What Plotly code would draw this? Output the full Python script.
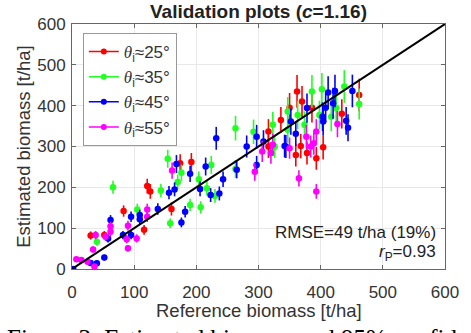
import plotly.graph_objects as go

# ---- data (t/ha) ----
red_x = [30, 52, 83, 116, 121, 126, 160, 174, 192, 316, 336, 316, 360, 368, 378, 393, 404, 362, 370, 386, 434, 462, 350]
red_y = [82, 83, 142, 96, 203, 190, 147, 259, 262, 337, 365, 300, 279, 301, 284, 271, 298, 435, 410, 395, 380, 426, 395]
red_e = [10, 10, 14, 12, 18, 18, 16, 22, 22, 30, 32, 28, 28, 30, 28, 28, 30, 40, 38, 36, 36, 40, 36]

green_x = [40, 66, 105, 143, 154, 158, 170, 176, 190, 204, 207, 217, 224, 230, 263, 263, 292, 323, 326, 347, 347, 363, 374, 386, 398, 402, 417, 425, 438, 462]
green_y = [67, 200, 146, 192, 270, 112, 213, 236, 157, 220, 151, 198, 255, 179, 345, 245, 336, 353, 300, 386, 341, 377, 353, 435, 377, 440, 373, 394, 447, 404]
green_e = [10, 16, 14, 17, 22, 12, 18, 20, 15, 19, 15, 18, 22, 17, 30, 22, 30, 32, 28, 35, 32, 35, 33, 40, 35, 40, 35, 36, 40, 38]

blue_x = [2, 30, 40, 52, 58, 62, 82, 95, 95, 109, 109, 138, 156, 165, 168, 176, 182, 190, 206, 215, 223, 232, 237, 243, 265, 281, 297, 297, 308, 342, 352, 344, 360, 378, 403, 404, 408, 412, 420, 423, 441, 444, 451]
blue_y = [0, 15, 14, 28, 75, 120, 83, 128, 83, 132, 122, 147, 187, 195, 257, 114, 140, 233, 196, 251, 181, 320, 185, 220, 243, 300, 324, 255, 312, 301, 361, 300, 331, 394, 373, 361, 395, 432, 406, 436, 363, 346, 436]
blue_e = [5, 6, 6, 7, 10, 12, 10, 13, 10, 13, 12, 14, 16, 17, 22, 12, 14, 20, 18, 22, 17, 28, 17, 19, 21, 27, 29, 22, 28, 28, 32, 28, 30, 36, 35, 33, 36, 40, 38, 40, 34, 33, 40]

mag_x = [7, 15, 25, 34, 36, 38, 54, 62, 62, 88, 90, 90, 104, 121, 121, 161, 294, 306, 320, 323, 350, 365, 377, 384, 389, 393, 393, 427]
mag_y = [24, 22, 18, 48, 6, 83, 79, 91, 105, 73, 106, 51, 75, 146, 128, 241, 238, 288, 284, 304, 296, 222, 324, 300, 308, 337, 190, 355]
mag_e = [6, 6, 6, 8, 5, 10, 10, 11, 11, 10, 12, 8, 10, 14, 13, 20, 22, 26, 26, 27, 26, 20, 29, 27, 28, 30, 18, 32]

series = [
    ("25", red_x, red_y, red_e, "#ff0000"),
    ("35", green_x, green_y, green_e, "#22ff22"),
    ("45", blue_x, blue_y, blue_e, "#0000ff"),
    ("55", mag_x, mag_y, mag_e, "#ff00ff"),
]
ref_line = [0, 600]
ticks = [0, 100, 200, 300, 400, 500, 600]

FONT = "Liberation Sans, Arial, sans-serif"
SERIF = "Liberation Serif, Times New Roman, serif"

fig = go.Figure()
for name, xs, ys, es, col in series:
    fig.add_trace(go.Scatter(
        x=xs, y=ys, mode="markers", showlegend=False,
        marker=dict(color=col, size=6.5),
        error_y=dict(type="data", array=es, visible=True, color=col, thickness=1.6, width=0),
    ))
fig.add_trace(go.Scatter(x=ref_line, y=ref_line, mode="lines", showlegend=False,
                         line=dict(color="black", width=2)))
for name, xs, ys, es, col in series:
    fig.add_trace(go.Scatter(
        x=[None], y=[None], mode="lines+markers",
        name='<span style="font-family:Liberation Serif"><i>θ</i></span><sub>i</sub>≈' + name + '°',
        line=dict(color=col, width=1.5), marker=dict(color=col, size=6),
    ))

axis_common = dict(
    range=[0, 600], tickvals=ticks, ticktext=[str(t) for t in ticks],
    showgrid=True, gridcolor="#e8e8e8", gridwidth=1,
    showline=True, linecolor="#666666", linewidth=1, mirror="ticks",
    ticks="inside", ticklen=4, tickcolor="#666666",
    tickfont=dict(family=FONT, size=17, color="#333333"),
    zeroline=False,
)
fig.update_xaxes(**axis_common, ticklabelstandoff=8)
fig.update_yaxes(**axis_common, ticklabelstandoff=2)

fig.update_layout(
    width=471, height=333,
    margin=dict(l=72, r=16, t=24, b=64),
    paper_bgcolor="white", plot_bgcolor="white",
    font=dict(family=FONT, color="#333333"),
    legend=dict(
        x=0.029, y=0.963, xanchor="left", yanchor="top",
        bordercolor="#999999", borderwidth=1, bgcolor="white",
        font=dict(family=FONT, size=17, color="#333333"),
        tracegroupgap=0,
    ),
    annotations=[
        dict(text="<b>Validation plots (<i>c</i>=1.16)</b>", xref="paper", yref="paper",
             x=0.5, y=1.053, xanchor="center", yanchor="middle", showarrow=False,
             font=dict(family=FONT, size=19, color="#222222")),
        dict(text="Reference biomass [t/ha]", xref="paper", yref="paper",
             x=0.5, y=-0.168, xanchor="center", yanchor="middle", showarrow=False,
             font=dict(family=FONT, size=18.5, color="#333333")),
        dict(text="Estimated biomass [t/ha]", xref="paper", yref="paper",
             x=-0.1305, y=0.5, xanchor="center", yanchor="middle", textangle=-90, showarrow=False,
             font=dict(family=FONT, size=18.5, color="#333333")),
        dict(text="RMSE=49 t/ha (19%)", xref="paper", yref="paper",
             x=0.982, y=0.151, xanchor="right", yanchor="middle", showarrow=False,
             font=dict(family=FONT, size=17, color="#222222")),
        dict(text="<i>r</i><sub>P</sub>=0.93", xref="paper", yref="paper",
             x=0.982, y=0.065, xanchor="right", yanchor="middle", showarrow=False,
             font=dict(family=FONT, size=17, color="#222222")),
        dict(text="Figure 3: Estimated biomass and 95% confid", xref="paper", yref="paper",
             x=-0.18, y=-0.285, xanchor="left", yanchor="middle", showarrow=False,
             font=dict(family=SERIF, size=25, color="black")),
    ],
)
fig.write_html("out.html")
